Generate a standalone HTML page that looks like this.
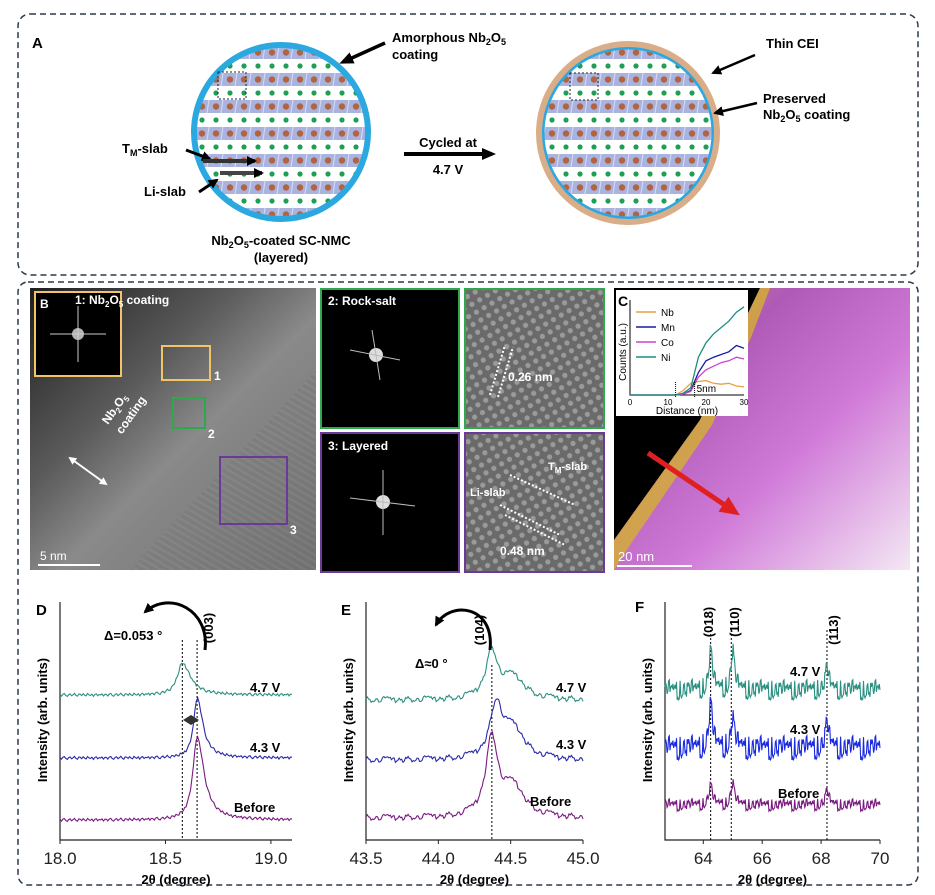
<!DOCTYPE html>
<html><head><meta charset="utf-8"><style>
html,body{margin:0;padding:0;background:#fff;}
svg{display:block;font-family:"Liberation Sans",Arial,sans-serif;}
.b{font-weight:bold;}
</style></head><body>
<svg id="fig" width="935" height="895" viewBox="0 0 935 895" xmlns="http://www.w3.org/2000/svg">
<defs>
<pattern id="layers" x="0" y="46" width="14" height="27" patternUnits="userSpaceOnUse">
<rect x="0" y="0" width="14" height="13" fill="#aab3e0"/>
<line x1="13" y1="0" x2="11" y2="13" stroke="#d8ddf2" stroke-width="1"/>
<circle cx="6" cy="6.5" r="3.2" fill="#b0643f"/>
<circle cx="6" cy="20" r="2.6" fill="#1f9e55"/>
</pattern>
<clipPath id="c1"><circle cx="281" cy="132" r="86"/></clipPath>
<clipPath id="c2"><circle cx="628" cy="133" r="86"/></clipPath>
<linearGradient id="bgB" x1="0" y1="0" x2="1" y2="1">
<stop offset="0" stop-color="#1e1e1e"/><stop offset="0.35" stop-color="#5a5a5a"/><stop offset="0.55" stop-color="#8a8a8a"/><stop offset="1" stop-color="#6e6e6e"/></linearGradient>
<linearGradient id="mapC" x1="0" y1="0" x2="1" y2="1">
<stop offset="0" stop-color="#c89a3c"/><stop offset="0.3" stop-color="#b05ab8"/><stop offset="0.6" stop-color="#d07ad8"/><stop offset="1" stop-color="#f4e8f4"/></linearGradient>
<pattern id="lat" width="9" height="9" patternUnits="userSpaceOnUse" patternTransform="rotate(-30)">
<rect width="9" height="9" fill="#6a6a6a"/><circle cx="4.5" cy="4.5" r="2.6" fill="#9a9a9a"/></pattern>
<pattern id="stripes" width="6" height="6" patternUnits="userSpaceOnUse" patternTransform="rotate(-60)">
<rect width="6" height="6" fill="#767676"/><rect width="2" height="6" fill="#8e8e8e"/></pattern>
<marker id="ah" markerUnits="userSpaceOnUse" markerWidth="14" markerHeight="12" refX="10" refY="6" orient="auto"><path d="M0,0 L14,6 L0,12 z" fill="#000"/></marker>
<marker id="ahs" markerUnits="userSpaceOnUse" markerWidth="10" markerHeight="10" refX="8" refY="5" orient="auto"><path d="M0,0 L10,5 L0,10 z" fill="#000"/></marker>
<marker id="ahr" markerUnits="userSpaceOnUse" markerWidth="20" markerHeight="18" refX="14" refY="9" orient="auto"><path d="M0,0 L20,9 L0,18 z" fill="#e02020"/></marker>
<marker id="ahw" markerUnits="userSpaceOnUse" markerWidth="8" markerHeight="8" refX="6" refY="4" orient="auto-start-reverse"><path d="M0,0 L8,4 L0,8 z" fill="#fff"/></marker>
</defs>

<!-- Panel A -->
<rect x="18" y="14" width="900" height="261" rx="12" fill="none" stroke="#2b3a4a" stroke-width="1.5" stroke-dasharray="6,4"/>
<text x="32" y="48" class="b" font-size="15">A</text>
<g>
<rect x="190" y="40" width="185" height="185" fill="url(#layers)" clip-path="url(#c1)"/>
<circle cx="281" cy="132" r="87" fill="none" stroke="#2aa8df" stroke-width="6"/>
<rect x="218" y="72" width="28" height="27" fill="none" stroke="#223" stroke-dasharray="2,2"/>
</g>
<g>
<rect x="537" y="41" width="185" height="185" fill="url(#layers)" clip-path="url(#c2)"/>
<circle cx="628" cy="133" r="85" fill="none" stroke="#2aa8df" stroke-width="3"/>
<circle cx="628" cy="133" r="89" fill="none" stroke="#d9ad88" stroke-width="6"/>
<rect x="570" y="73" width="28" height="27" fill="none" stroke="#223" stroke-dasharray="2,2"/>
</g>
<text x="392" y="42" class="b" font-size="13">Amorphous Nb<tspan font-size="9" dy="3">2</tspan><tspan dy="-3">O</tspan><tspan font-size="9" dy="3">5</tspan><tspan x="392" dy="14">coating</tspan></text>
<line x1="385" y1="43" x2="343" y2="62" stroke="#000" stroke-width="3.5" marker-end="url(#ah)"/>
<text x="122" y="153" class="b" font-size="13">T<tspan font-size="9" dy="3">M</tspan><tspan dy="-3">-slab</tspan></text>
<line x1="186" y1="150" x2="210" y2="159" stroke="#000" stroke-width="3" marker-end="url(#ahs)"/>
<line x1="203" y1="161" x2="255" y2="161" stroke="#333" stroke-width="4" marker-end="url(#ahs)"/>
<text x="144" y="196" class="b" font-size="13">Li-slab</text>
<line x1="199" y1="192" x2="217" y2="180" stroke="#000" stroke-width="3" marker-end="url(#ahs)"/>
<line x1="220" y1="173" x2="262" y2="173" stroke="#444" stroke-width="4" marker-end="url(#ahs)"/>
<text x="281" y="245" text-anchor="middle" class="b" font-size="13">Nb<tspan font-size="9" dy="3">2</tspan><tspan dy="-3">O</tspan><tspan font-size="9" dy="3">5</tspan><tspan dy="-3">-coated SC-NMC</tspan></text>
<text x="281" y="262" text-anchor="middle" class="b" font-size="13">(layered)</text>
<text x="448" y="147" text-anchor="middle" class="b" font-size="13">Cycled at</text>
<line x1="404" y1="154" x2="492" y2="154" stroke="#000" stroke-width="4" marker-end="url(#ah)"/>
<text x="448" y="174" text-anchor="middle" class="b" font-size="13">4.7 V</text>
<text x="766" y="48" class="b" font-size="13">Thin CEI</text>
<line x1="755" y1="55" x2="713" y2="73" stroke="#000" stroke-width="2.5" marker-end="url(#ahs)"/>
<text x="763" y="103" class="b" font-size="13">Preserved<tspan x="763" dy="16">Nb</tspan><tspan font-size="9" dy="3">2</tspan><tspan dy="-3">O</tspan><tspan font-size="9" dy="3">5</tspan><tspan dy="-3"> coating</tspan></text>
<line x1="757" y1="103" x2="715" y2="113" stroke="#000" stroke-width="2.5" marker-end="url(#ahs)"/>

<!-- Panels B-F frame -->
<rect x="18" y="282" width="900" height="603" rx="10" fill="none" stroke="#2b3a4a" stroke-width="1.5" stroke-dasharray="6,4"/>

<!-- Panel B -->
<g>
<rect x="30" y="288" width="286" height="282" fill="url(#bgB)"/>
<polygon points="130,570 316,370 316,570" fill="url(#stripes)" opacity="0.35"/>
<rect x="35" y="292" width="86" height="84" fill="#000" stroke="#f2c46a" stroke-width="2"/>
<circle cx="78" cy="334" r="6" fill="#fff" opacity="0.7"/><line x1="50" y1="334" x2="106" y2="334" stroke="#ccc"/><line x1="78" y1="306" x2="78" y2="362" stroke="#ccc"/>
<text x="40" y="308" fill="#fff" font-size="12" font-weight="bold">B</text>
<text x="75" y="304" fill="#fff" class="b" font-size="12">1: Nb<tspan font-size="8" dy="3">2</tspan><tspan dy="-3">O</tspan><tspan font-size="8" dy="3">5</tspan><tspan dy="-3"> coating</tspan></text>
<rect x="162" y="346" width="48" height="34" fill="none" stroke="#f2c46a" stroke-width="2"/>
<text x="214" y="380" fill="#fff" class="b" font-size="12">1</text>
<rect x="173" y="398" width="32" height="30" fill="none" stroke="#2ea84a" stroke-width="2"/>
<text x="208" y="438" fill="#fff" class="b" font-size="12">2</text>
<rect x="220" y="457" width="67" height="67" fill="none" stroke="#6b3a96" stroke-width="2"/>
<text x="290" y="534" fill="#fff" class="b" font-size="12">3</text>
<text x="108" y="425" fill="#fff" class="b" font-size="12" transform="rotate(-55 108 425)">Nb<tspan font-size="8" dy="3">2</tspan><tspan dy="-3">O</tspan><tspan font-size="8" dy="3">5</tspan><tspan x="108" dy="14">coating</tspan></text>
<line x1="70" y1="458" x2="106" y2="484" stroke="#fff" stroke-width="2" marker-end="url(#ahw)" marker-start="url(#ahw)"/>
<line x1="38" y1="565" x2="100" y2="565" stroke="#fff" stroke-width="2"/>
<text x="40" y="560" fill="#fff" font-size="12">5 nm</text>
</g>

<!-- middle images -->
<g>
<rect x="321" y="289" width="138" height="139" fill="#000" stroke="#2ea84a" stroke-width="2"/>
<circle cx="376" cy="355" r="7" fill="#ddd"/><line x1="350" y1="350" x2="400" y2="360" stroke="#bbb"/><line x1="372" y1="330" x2="380" y2="380" stroke="#bbb"/>
<text x="328" y="305" fill="#fff" class="b" font-size="12">2: Rock-salt</text>
</g>
<g>
<rect x="465" y="289" width="139" height="139" fill="url(#lat)" stroke="#2ea84a" stroke-width="2"/>
<line x1="490" y1="395" x2="505" y2="345" stroke="#fff" stroke-width="2" stroke-dasharray="2,2"/><line x1="498" y1="397" x2="513" y2="347" stroke="#fff" stroke-width="2" stroke-dasharray="2,2"/>
<text x="508" y="381" fill="#fff" class="b" font-size="12">0.26 nm</text>
</g>
<g>
<rect x="321" y="433" width="138" height="139" fill="#000" stroke="#6b3a96" stroke-width="2"/>
<circle cx="383" cy="502" r="7" fill="#ddd"/><line x1="383" y1="470" x2="383" y2="535" stroke="#bbb"/><line x1="350" y1="498" x2="415" y2="506" stroke="#bbb"/>
<text x="328" y="450" fill="#fff" class="b" font-size="12">3: Layered</text>
</g>
<g>
<rect x="465" y="433" width="139" height="139" fill="url(#lat)" stroke="#6b3a96" stroke-width="2"/>
<line x1="510" y1="475" x2="575" y2="505" stroke="#fff" stroke-width="2" stroke-dasharray="2,2"/>
<line x1="500" y1="505" x2="560" y2="535" stroke="#fff" stroke-width="2" stroke-dasharray="2,2"/>
<line x1="505" y1="515" x2="565" y2="545" stroke="#fff" stroke-width="2" stroke-dasharray="2,2"/>
<text x="548" y="470" fill="#fff" class="b" font-size="11">T<tspan font-size="8" dy="3">M</tspan><tspan dy="-3">-slab</tspan></text>
<text x="470" y="496" fill="#fff" class="b" font-size="11">Li-slab</text>
<text x="500" y="555" fill="#fff" class="b" font-size="12">0.48 nm</text>
</g>

<!-- Panel C -->
<g>
<rect x="614" y="288" width="296" height="282" fill="#000"/>
<polygon points="614,570 614,540 700,420 740,330 760,288 910,288 910,570" fill="url(#mapC)"/>
<polygon points="614,540 700,420 740,330 760,288 770,288 752,335 712,425 630,545 614,570" fill="#d4b030" opacity="0.8"/>
<line x1="648" y1="453" x2="735" y2="512" stroke="#e02020" stroke-width="5" marker-end="url(#ahr)"/>
<line x1="617" y1="566" x2="692" y2="566" stroke="#fff" stroke-width="2"/>
<text x="618" y="561" fill="#fff" font-size="13">20 nm</text>
</g>
<g id="insetC">
<rect x="616" y="290" width="132" height="126" fill="#fff"/>
<text x="618" y="306" class="b" font-size="14">C</text>
</g>

<!-- XRD panels -->
<g id="xrd"></g>
</svg>
<script>
// ---------- Inset C data ----------
const cDist = [0,4,8,12,14,16,18,20,22,24,26,28,30];
const cNb = [0,0,0,0,0.05,0.13,0.15,0.16,0.13,0.12,0.13,0.10,0.09];
const cMn = [0,0,0,0,0.01,0.05,0.25,0.38,0.42,0.45,0.48,0.55,0.52];
const cCo = [0,0,0,0,0.01,0.04,0.20,0.28,0.32,0.36,0.38,0.42,0.40];
const cNi = [0,0,0,0,0.02,0.08,0.42,0.58,0.68,0.75,0.82,0.92,0.98];
const cTicks = [0,10,20,30];

// ---------- XRD data ----------
const dLabels = ["Before","4.3 V","4.7 V"];
const dOffsets = [20, 82, 145];
const dCenters = [18.65, 18.65, 18.58];
const dHeights = [83, 60, 32];
const dWidths = [0.03, 0.025, 0.035];
const dTicks = [18.0, 18.5, 19.0];

const eOffsets = [22, 80, 140];
const eCenters = [44.37, 44.40, 44.37];
const eHeights = [78, 52, 47];
const eShoulder = [30, 30, 22];
const eTicks = [43.5, 44.0, 44.5, 45.0];

const fOffsets = [35, 92, 150];
const fPeaks = [64.25, 65.0, 68.2];
const fHeights = [[20,22,14],[45,30,25],[40,40,22]];
const fNoise = [6, 12, 10];
const fTicks = [64, 66, 68, 70];

const noise = [0.3,-0.8,0.5,0.9,-0.4,-1,0.2,0.7,-0.6,0.1,1,-0.3,-0.9,0.6,0.4,-0.5,0.8,-0.2,-0.7,0.9,0.0,-0.4,0.5,-1,0.3,0.7,-0.6,0.2,-0.1,0.6,-0.8,0.4];

const NS = "http://www.w3.org/2000/svg";
const root = document.getElementById('xrd');
function mk(tag, attrs, parent) {
  const e = document.createElementNS(NS, tag);
  for (const k in attrs) e.setAttribute(k, attrs[k]);
  (parent || root).appendChild(e);
  return e;
}
function lor(x, c, w) { return 1 / (1 + ((x - c) / w) ** 2); }

// Inset C
(function(){
  const g = document.getElementById('insetC');
  const x = d => 630 + d / 30 * 114;
  const y = v => 395 - v * 90;
  const ax = mk('path', {d:'M630,300 L630,395 L744,395', fill:'none', stroke:'#000', 'stroke-width':1}, g);
  
  
  cTicks.forEach(t => {
    const tx = mk('text', {x:x(t), y:405, 'font-size':8, 'text-anchor':'middle'}, g);
    tx.textContent = t;
    
    
  });
  const xt = mk('text', {x:687, y:414, 'font-size':10, 'text-anchor':'middle'}, g);
  xt.textContent = 'Distance (nm)';
  
  
  const yt = mk('text', {x:626, y:352, 'font-size':10, 'text-anchor':'middle', transform:'rotate(-90 626 352)'}, g);
  yt.textContent = 'Counts (a.u.)';
  
  
  const series = [["Nb", cNb, "#e8a040"], ["Mn", cMn, "#1a1aa0"], ["Co", cCo, "#d040d0"], ["Ni", cNi, "#1a9080"]];
  series.forEach((s, i) => {
    const p = mk('polyline', {points: cDist.map((d, j) => x(d) + ',' + y(s[1][j])).join(' '), fill:'none', stroke:s[2], 'stroke-width':1.3}, g);
    
    
    const ly = 316 + i * 15;
    const ll = mk('line', {x1:636, y1:ly - 4, x2:656, y2:ly - 4, stroke:s[2], 'stroke-width':1.5}, g);
    
    
    const lt = mk('text', {x:661, y:ly, 'font-size':10}, g);
    lt.textContent = s[0];
    
    
  });
  mk('line', {x1:x(12), y1:382, x2:x(12), y2:398, stroke:'#000', 'stroke-dasharray':'1,1'}, g);
  mk('line', {x1:x(17), y1:382, x2:x(17), y2:398, stroke:'#000', 'stroke-dasharray':'1,1'}, g);
  const t5 = mk('text', {x:x(17) + 2, y:392, 'font-size':10}, g);
  t5.textContent = '5nm';
  
  
})();

// Generic XRD panel
function panel(opts) {
  const {name, x0, x1, px0, px1, ticks, fmt, colors, curves, labels, labelPos, lineX} = opts;
  const X = v => px0 + (v - x0) / (x1 - x0) * (px1 - px0);
  const Y = v => 840 - v;
  const g = mk('g', {});
  
  
  const axes = mk('path', {d:`M${px0},602 L${px0},840 L${px1},840`, fill:'none', stroke:'#222', 'stroke-width':1.2}, g);
  
  
  ticks.forEach(t => {
    mk('line', {x1:X(t), y1:840, x2:X(t), y2:844, stroke:'#222'}, g);
    const tt = mk('text', {x:X(t), y:864, 'font-size':17, 'text-anchor':'middle', fill:'#222'}, g);
    tt.textContent = fmt(t);
    
    
  });
  const xt = mk('text', {x:(px0 + px1) / 2, y:884, 'font-size':13, 'text-anchor':'middle', 'font-weight':'bold'}, g);
  xt.textContent = '2θ (degree)';
  
  
  const yx = px0 - 13;
  const yt = mk('text', {x:yx, y:720, 'font-size':13, 'text-anchor':'middle', 'font-weight':'bold', transform:`rotate(-90 ${yx} 720)`}, g);
  yt.textContent = 'Intensity (arb. units)';
  
  
  lineX.forEach(v => {
    const l = mk('line', {x1:X(v), y1:opts.lineTop, x2:X(v), y2:840, stroke:'#000', 'stroke-dasharray':'2,2', 'stroke-width':1}, g);
    
    
  });
  curves.forEach((fn, i) => {
    const pts = [];
    const n = opts.n;
    for (let k = 0; k <= n; k++) {
      const xv = x0 + (x1 - x0) * k / n;
      pts.push(X(xv).toFixed(1) + ',' + Y(fn(xv, k)).toFixed(1));
    }
    const p = mk('polyline', {points:pts.join(' '), fill:'none', stroke:colors[i], 'stroke-width':1.1}, g);
    
    
    const lt = mk('text', {x:labelPos[i][0], y:labelPos[i][1], 'font-size':13, 'font-weight':'bold'}, g);
    lt.textContent = labels[i];
    
    
  });
  return {g, X, Y};
}

const cols3 = ["#7a1a80", "#2a2aa8", "#2a9080"];
// D
const D = panel({name:'panel-d-003', x0:18.0, x1:19.1, px0:60, px1:292, ticks:dTicks, fmt:t=>t.toFixed(1),
  colors:cols3, labels:dLabels, labelPos:[[234,812],[250,752],[250,692]], lineX:[18.58,18.65], lineTop:640, n:160,
  curves:[0,1,2].map(i => (x,k) => {
    const w = x < dCenters[i] ? dWidths[i] * 0.8 : dWidths[i] * 1.3;
    return dOffsets[i] + dHeights[i] * lor(x, dCenters[i], w) + 1.5 * noise[k % noise.length];
  })});
// E
const E = panel({name:'panel-e-104', x0:43.5, x1:45.0, px0:366, px1:583, ticks:eTicks, fmt:t=>t.toFixed(1),
  colors:cols3, labels:dLabels, labelPos:[[530,806],[556,749],[556,692]], lineX:[44.37], lineTop:665, n:170,
  curves:[0,1,2].map(i => (x,k) => eOffsets[i] + eHeights[i] * lor(x, eCenters[i], 0.05) + eShoulder[i] * lor(x, 44.52, 0.09) + 3 * noise[(k * 3) % noise.length])});
// F
const F = panel({name:'panel-f', x0:62.7, x1:70, px0:665, px1:880, ticks:fTicks, fmt:t=>t, 
  colors:["#7a1a80","#1a2ae0","#2a9080"], labels:dLabels, labelPos:[[778,798],[790,734],[790,676]], lineX:[64.25,64.95,68.2], lineTop:630, n:300,
  curves:[0,1,2].map(i => (x,k) => fOffsets[i] + fPeaks.reduce((s,c,j)=> s + fHeights[i][j] * lor(x, c, 0.07), 0) + fNoise[i] * noise[(k * 7) % noise.length])});

// annotations
function txt(x, y, s, extra, name) {
  const t = mk('text', Object.assign({x, y, 'font-size':13, 'font-weight':'bold'}, extra || {}));
  t.textContent = s;
  
  
  return t;
}
txt(36, 615, 'D', {'font-size':15}, 'panel-d-label');
txt(341, 615, 'E', {'font-size':15}, 'panel-e-label');
txt(635, 612, 'F', {'font-size':15}, 'panel-f-label');
txt(104, 640, 'Δ=0.053 °', {}, 'delta-d');
txt(213, 628, '(003)', {transform:'rotate(-90 213 628)', 'text-anchor':'middle'}, 'hkl-003');
txt(415, 668, 'Δ≈0 °', {}, 'delta-e');
txt(484, 630, '(104)', {transform:'rotate(-90 484 630)', 'text-anchor':'middle'}, 'hkl-104');
txt(713, 622, '(018)', {transform:'rotate(-90 713 622)', 'text-anchor':'middle'}, 'hkl-018');
txt(739, 622, '(110)', {transform:'rotate(-90 739 622)', 'text-anchor':'middle'}, 'hkl-110');
txt(838, 630, '(113)', {transform:'rotate(-90 838 630)', 'text-anchor':'middle'}, 'hkl-113');
const a1 = mk('path', {d:'M205,650 C210,610 170,590 145,612', fill:'none', stroke:'#000', 'stroke-width':3, 'marker-end':'url(#ahs)'});


const a2 = mk('path', {d:'M490,650 C495,605 450,600 436,625', fill:'none', stroke:'#000', 'stroke-width':3, 'marker-end':'url(#ahs)'});


const dm = mk('path', {d:'M183,720 L191,715 L199,720 L191,725 z', fill:'#333'});


</script>
</body></html>
